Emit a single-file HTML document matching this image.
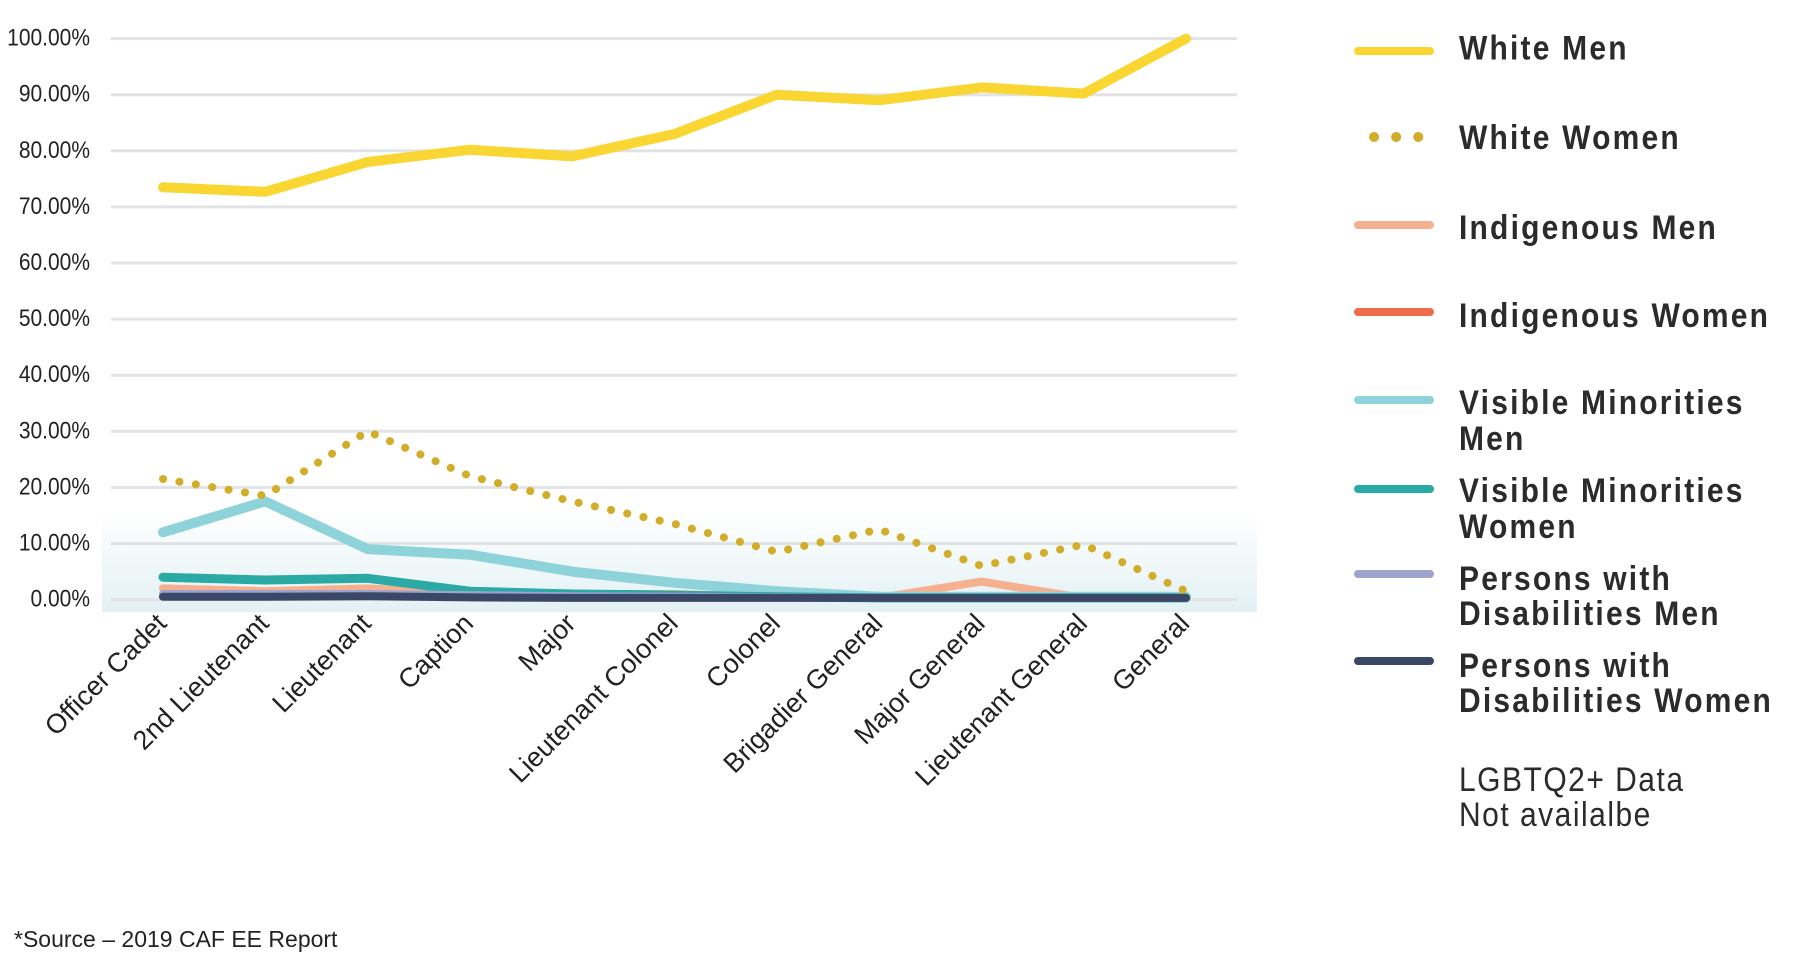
<!DOCTYPE html>
<html><head><meta charset="utf-8"><style>
html,body{margin:0;padding:0;background:#fff;}
svg{display:block;font-family:"Liberation Sans",Arial,sans-serif;}
</style></head><body>
<svg id="chart" width="1796" height="963" viewBox="0 0 1796 963" xmlns="http://www.w3.org/2000/svg">
<defs>
<linearGradient id="band" x1="0" y1="0" x2="0" y2="1">
<stop offset="0" stop-color="#ffffff"/><stop offset="1" stop-color="#e3f1f4"/>
</linearGradient>
</defs>
<rect x="102" y="510" width="1155" height="102" fill="url(#band)"/>
<g id="grid"></g>
<g id="ylabels"></g>
<g id="xlabels"></g>
<g id="series"></g>
<g id="legend"></g>
<text x="14" y="947" font-size="23" fill="#222">*Source – 2019 CAF EE Report</text>
</svg>
<script>
const categories = ["Officer Cadet","2nd Lieutenant","Lieutenant","Caption","Major","Lieutenant Colonel","Colonel","Brigadier General","Major General","Lieutenant General","General"];
const yTicks = [0,10,20,30,40,50,60,70,80,90,100];
const whiteMen = [73.5,72.7,78,80.2,79,83,90,89,91.3,90.2,100];
const whiteWomen = [21.5,18.5,30,22,17.5,13.5,8.5,12.5,6,9.8,1.5];
const indigenousMen = [2,1.5,2,1,1,1,0.5,0.3,3.2,0.3,0.3];
const indigenousWomen = [1,1,1,0.5,0.5,0.5,0.3,0.3,0.3,0.3,0.3];
const vmMen = [12,17.5,9,8,5,3,1.5,0.5,0.5,0.5,0.5];
const vmWomen = [4,3.5,3.8,1.5,1,0.8,0.5,0.3,0.3,0.3,0.3];
const pwdMen = [1,1,1,0.8,0.6,0.5,0.4,0.3,0.3,0.3,0.3];
const pwdWomen = [0.5,0.5,0.6,0.4,0.3,0.3,0.3,0.3,0.3,0.3,0.3];

const NS="http://www.w3.org/2000/svg";
const X0=163, X1=1186, Y0=599.6, Y100=38.6;
function xs(i){return X0+(X1-X0)*i/(categories.length-1);}
function ys(v){return Y0+(Y100-Y0)*v/100;}
function mk(tag,attrs,parent){const e=document.createElementNS(NS,tag);for(const k in attrs)e.setAttribute(k,attrs[k]);parent.appendChild(e);return e;}

const grid=document.getElementById('grid'), yl=document.getElementById('ylabels');
yTicks.forEach(t=>{
  const l=mk('line',{x1:111,x2:1237,y1:ys(t),y2:ys(t),stroke:'#e1e3e6','stroke-width':3},grid);
  
  
  const tx=mk('text',{transform:`translate(90,${ys(t)+7}) scale(1,1.15)`,'text-anchor':'end','font-size':21,fill:'#222'},yl);
  tx.textContent=t.toFixed(2)+'%';
  
  
});
const xl=document.getElementById('xlabels');
categories.forEach((c,i)=>{
  const tx=mk('text',{transform:`translate(${xs(i)+5},${625}) rotate(-45)`,'text-anchor':'end','font-size':27,fill:'#222'},xl);
  tx.textContent=c;
  
  
});
const sg=document.getElementById('series');
function pts(arr){return arr.map((v,i)=>xs(i).toFixed(1)+','+ys(v).toFixed(1)).join(' ');}
const defs=[
 [indigenousMen,'#f5b08f',8,null,'line-indigenous-men'],
 [indigenousWomen,'#ee6a48',5,null,'line-indigenous-women'],
 [vmMen,'#8fd3da',10,null,'line-visible-minorities-men'],
 [vmWomen,'#2aa9a5',9,null,'line-visible-minorities-women'],
 [pwdMen,'#9ea3cd',8,null,'line-disabilities-men'],
 [pwdWomen,'#3a4766',8,null,'line-disabilities-women'],
 [whiteWomen,'#d2ad2a',8,'0.1 16.5','line-white-women'],
 [whiteMen,'#fad632',10,null,'line-white-men']
];
defs.forEach(d=>{
  const a={points:pts(d[0]),fill:'none',stroke:d[1],'stroke-width':d[2],'stroke-linejoin':'round','stroke-linecap':'round'};
  if(d[3])a['stroke-dasharray']=d[3];
  const p=mk('polyline',a,sg);
  
  
});
const lg=document.getElementById('legend');
const legendRows=[
 [51,'#fad632',null,[['White Men',59.5]]],
 [137,'#d2ad2a','0.1 22',[['White Women',149]]],
 [225,'#f5b08f',null,[['Indigenous Men',239]]],
 [312,'#ee6a48',null,[['Indigenous Women',327]]],
 [400,'#8fd3da',null,[['Visible Minorities',414],['Men',450]]],
 [489,'#2aa9a5',null,[['Visible Minorities',502],['Women',538]]],
 [574,'#9ea3cd',null,[['Persons with',590],['Disabilities Men',625]]],
 [661,'#3a4766',null,[['Persons with',677],['Disabilities Women',712]]]
];
legendRows.forEach((r,i)=>{
  const a={x1:1372,x2:1444,y1:r[0],y2:r[0],stroke:r[1],'stroke-width':r[2]?10:8,'stroke-linecap':'round'};
  a.x1-=14; a.x2-=14;
  if(r[2]){a['stroke-dasharray']=r[2];a.x1=1374;a.x2=1422;}
  const l=mk('line',a,lg);
  
  
  r[3].forEach(t=>{
    const tx=mk('text',{transform:`translate(1459,${t[1]}) scale(1,1.15)`,'font-size':30,'font-weight':'bold','letter-spacing':2.2,fill:'#2b2b2b'},lg);
    tx.textContent=t[0];
    
    
  });
});
[['LGBTQ2+ Data',791],['Not availalbe',826]].forEach(t=>{
  const tx=mk('text',{transform:`translate(1459,${t[1]}) scale(1,1.15)`,'font-size':30,'letter-spacing':1.5,fill:'#2b2b2b'},lg);
  tx.textContent=t[0];
  
  
});
</script>
</body></html>
